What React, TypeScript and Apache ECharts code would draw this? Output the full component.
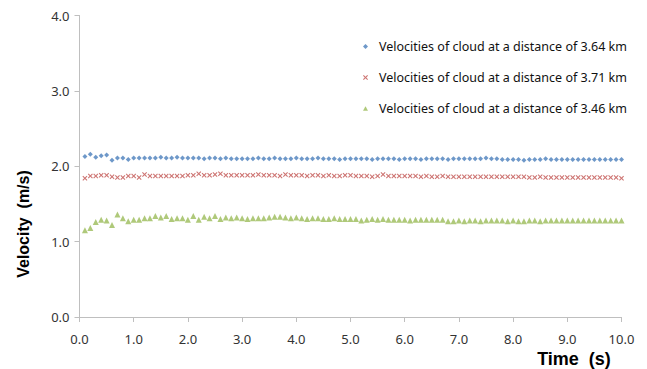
import React, { useEffect, useRef } from "react";
import * as echarts from "echarts";

// Time axis: samples every 0.1 s from 0.1 to 10.0
const times: number[] = Array.from({ length: 100 }, (_, i) => Number(((i + 1) / 10).toFixed(1)));

const seriesNames = [
  "Velocities of cloud at a distance of 3.64 km",
  "Velocities of cloud at a distance of 3.71 km",
  "Velocities of cloud at a distance of 3.46 km",
];

const velocity364: number[] = [
  2.13, 2.16, 2.12, 2.14, 2.15, 2.08, 2.11, 2.11, 2.09, 2.11,
  2.11, 2.11, 2.11, 2.11, 2.12, 2.11, 2.11, 2.12, 2.11, 2.11,
  2.11, 2.11, 2.10, 2.11, 2.11, 2.10, 2.11, 2.10, 2.10, 2.10,
  2.10, 2.10, 2.11, 2.10, 2.10, 2.11, 2.10, 2.10, 2.10, 2.11,
  2.10, 2.10, 2.10, 2.11, 2.10, 2.10, 2.10, 2.09, 2.10, 2.10,
  2.10, 2.10, 2.10, 2.09, 2.10, 2.10, 2.10, 2.10, 2.09, 2.10,
  2.10, 2.10, 2.09, 2.10, 2.10, 2.10, 2.10, 2.09, 2.10, 2.10,
  2.10, 2.10, 2.10, 2.10, 2.11, 2.10, 2.10, 2.09, 2.09, 2.09,
  2.09, 2.08, 2.09, 2.09, 2.09, 2.10, 2.09, 2.09, 2.09, 2.09,
  2.09, 2.09, 2.09, 2.09, 2.09, 2.09, 2.09, 2.09, 2.09, 2.09,
];

const velocity371: number[] = [
  1.84, 1.87, 1.87, 1.88, 1.88, 1.86, 1.85, 1.85, 1.87, 1.87,
  1.85, 1.89, 1.87, 1.87, 1.87, 1.87, 1.87, 1.87, 1.87, 1.88,
  1.88, 1.90, 1.88, 1.88, 1.89, 1.90, 1.88, 1.88, 1.88, 1.88,
  1.88, 1.88, 1.89, 1.88, 1.88, 1.88, 1.87, 1.89, 1.88, 1.88,
  1.88, 1.87, 1.88, 1.88, 1.87, 1.88, 1.87, 1.87, 1.88, 1.88,
  1.87, 1.87, 1.87, 1.86, 1.87, 1.89, 1.87, 1.87, 1.87, 1.87,
  1.87, 1.87, 1.86, 1.87, 1.86, 1.86, 1.87, 1.86, 1.86, 1.86,
  1.86, 1.86, 1.86, 1.86, 1.86, 1.86, 1.86, 1.86, 1.86, 1.86,
  1.86, 1.86, 1.85, 1.85, 1.86, 1.85, 1.85, 1.85, 1.85, 1.85,
  1.85, 1.85, 1.85, 1.85, 1.85, 1.85, 1.85, 1.85, 1.85, 1.84,
];

const velocity346: number[] = [
  1.15, 1.18, 1.26, 1.29, 1.28, 1.22, 1.36, 1.31, 1.27, 1.29,
  1.29, 1.31, 1.31, 1.34, 1.32, 1.34, 1.30, 1.31, 1.31, 1.29,
  1.34, 1.29, 1.33, 1.31, 1.34, 1.30, 1.32, 1.31, 1.32, 1.31,
  1.30, 1.31, 1.31, 1.31, 1.32, 1.33, 1.33, 1.32, 1.31, 1.32,
  1.31, 1.30, 1.31, 1.31, 1.30, 1.30, 1.31, 1.30, 1.30, 1.30,
  1.30, 1.28, 1.29, 1.30, 1.29, 1.30, 1.29, 1.29, 1.29, 1.29,
  1.28, 1.29, 1.29, 1.29, 1.29, 1.29, 1.29, 1.27, 1.27, 1.28,
  1.27, 1.28, 1.28, 1.27, 1.28, 1.28, 1.28, 1.28, 1.27, 1.28,
  1.27, 1.27, 1.28, 1.28, 1.27, 1.28, 1.28, 1.28, 1.28, 1.28,
  1.28, 1.28, 1.28, 1.28, 1.28, 1.28, 1.28, 1.28, 1.28, 1.28,
];

const colors = ["#4a7ebb", "#c0504d", "#9bbb59"];

// Marker shapes: small diamond, cross, triangle
const diamondIcon = "path://M5,0L10,5L5,10L0,5Z";
const crossIcon = "path://M0,1.5L1.5,0L5,3.5L8.5,0L10,1.5L6.5,5L10,8.5L8.5,10L5,6.5L1.5,10L0,8.5L3.5,5Z";
const triangleIcon = "path://M5,0L10,9L0,9Z";
const icons = [diamondIcon, crossIcon, triangleIcon];

const FONT = "'Noto Sans', 'DejaVu Sans', sans-serif";
const TITLE_FONT = "'Liberation Sans', Arial, sans-serif";

export default function App() {
  const ref = useRef<HTMLDivElement>(null);

  useEffect(() => {
    if (!ref.current) return;
    const chart = echarts.init(ref.current, undefined, { renderer: "svg" });
    const allSeries = [velocity364, velocity371, velocity346];

    chart.setOption({
      animation: false,
      backgroundColor: "#ffffff",
      grid: { left: 79.5, right: 25.5, top: 15.5, bottom: 52, containLabel: false },
      legend: {
        orient: "vertical",
        left: 358,
        top: 35,
        itemGap: 18,
        itemWidth: 5,
        itemHeight: 5,
        textStyle: { fontFamily: FONT, fontSize: 12.5, color: "#111", padding: [0, 0, 0, 6] },
        data: seriesNames.map((n, i) => ({ name: n, icon: icons[i] })),
      },
      xAxis: {
        type: "value",
        min: 0,
        max: 10,
        interval: 1,
        splitLine: { show: false },
        axisLine: { lineStyle: { color: "#bfbfbf", width: 1 } },
        axisTick: { show: true, length: 5, lineStyle: { color: "#bfbfbf" } },
        axisLabel: {
          margin: 15,
          fontFamily: FONT,
          fontSize: 13,
          color: "#333",
          formatter: (v: number) => v.toFixed(1),
        },
      },
      yAxis: {
        type: "value",
        min: 0,
        max: 4,
        interval: 1,
        splitLine: { show: false },
        axisLine: { show: true, lineStyle: { color: "#bfbfbf", width: 1 } },
        axisTick: { show: true, length: 5, lineStyle: { color: "#bfbfbf" } },
        axisLabel: {
          margin: 10,
          fontFamily: FONT,
          fontSize: 13,
          color: "#333",
          formatter: (v: number) => v.toFixed(1),
        },
      },
      graphic: [
        {
          type: "text",
          x: 23,
          y: 224,
          rotation: Math.PI / 2,
          style: {
            text: "Velocity  (m/s)",
            fontFamily: TITLE_FONT,
            fontSize: 16,
            fontWeight: "bold",
            fill: "#000",
            align: "center",
            verticalAlign: "middle",
          },
        },
        {
          type: "text",
          x: 574,
          y: 359,
          style: {
            text: "Time  (s)",
            fontFamily: TITLE_FONT,
            fontSize: 18,
            fontWeight: "bold",
            fill: "#000",
            align: "center",
            verticalAlign: "middle",
          },
        },
      ],
      series: allSeries.map((vals, i) => ({
        name: seriesNames[i],
        type: "scatter",
        symbol: icons[i],
        symbolSize: i === 2 ? [6, 6] : [5, 5],
        itemStyle: { color: colors[i] },
        data: vals.map((v, k) => [times[k], v]),
      })),
    });

    return () => chart.dispose();
  }, []);

  return <div ref={ref} style={{ width: 647, height: 369, position: "absolute", left: 0, top: 0 }} />;
}
